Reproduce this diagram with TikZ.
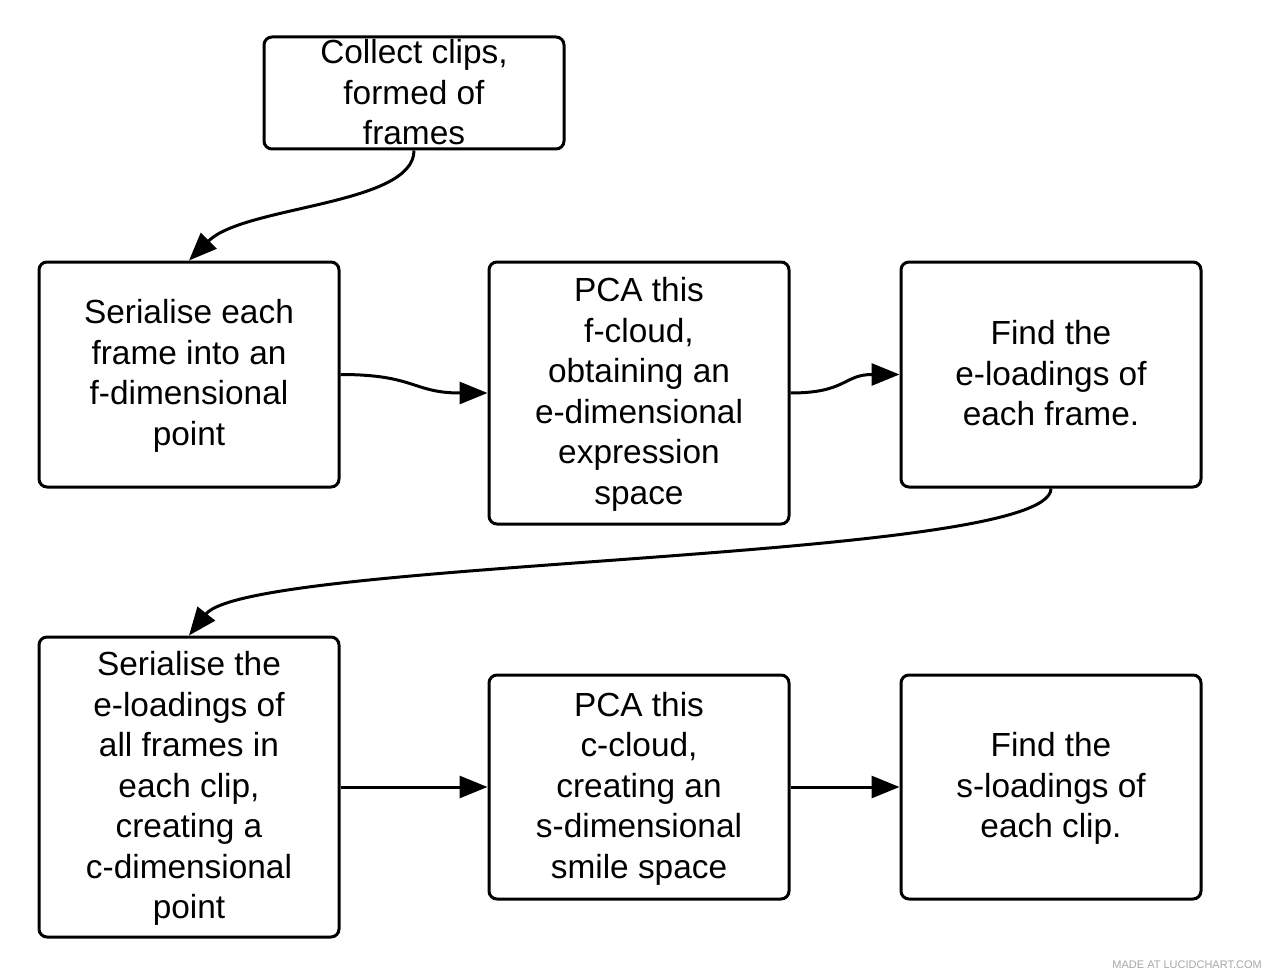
\documentclass[tikz,border=0pt]{standalone}
\usepackage{fontspec}
\setmainfont{Liberation Sans}
\usetikzlibrary{arrows.meta,calc}
\begin{document}
\begin{tikzpicture}[x=1pt,y=-1pt,
  box/.style={draw=black,line width=3pt,rounded corners=8pt,minimum width=300pt,inner sep=0pt},
  txt/.style={inner sep=0pt,align=center,font=\fontsize{33.4}{40.5}\selectfont},
  conn/.style={line width=3pt,-{Triangle[length=28pt,width=22pt]}},
  wmark/.style={inner sep=0pt,font=\fontsize{11}{12}\selectfont,text=black!35}]
\useasboundingbox (0,0) rectangle (1264,971);
\node[box,minimum height=112pt] (top) at (414,93) {};
\node[box,minimum height=225pt] (a) at (189,374.5) {};
\node[box,minimum height=262pt] (b) at (639,393) {};
\node[box,minimum height=225pt] (c) at (1051,374.5) {};
\node[box,minimum height=300pt] (d) at (189,787) {};
\node[box,minimum height=224pt] (e) at (639,787) {};
\node[box,minimum height=224pt] (f) at (1051,787) {};
\node[txt] (toptxt) at ($(top.center)+(0,3)$) {\strut Collect clips,\\formed of\\frames\strut};
\node[txt] (atxt) at ($(a.center)+(0,2)$) {\strut Serialise each\\frame into an\\f-dimensional\\point\strut};
\node[txt] (btxt) at ($(b.center)+(0,2)$) {\strut PCA this\\f-cloud,\\obtaining an\\e-dimensional\\expression\\space\strut};
\node[txt] (ctxt) at ($(c.center)+(0,2.5)$) {\strut Find the\\e-loadings of\\each frame.\strut};
\node[txt] (dtxt) at ($(d.center)+(0,2)$) {\strut Serialise the\\e-loadings of\\all frames in\\each clip,\\creating a\\c-dimensional\\point\strut};
\node[txt] (etxt) at ($(e.center)+(0,2)$) {\strut PCA this\\c-cloud,\\creating an\\s-dimensional\\smile space\strut};
\node[txt] (ftxt) at ($(f.center)+(0,2)$) {\strut Find the\\s-loadings of\\each clip.\strut};
\node[wmark,anchor=east] (wm) at (1262,965) {MADE AT LUCIDCHART.COM};
\draw[conn] (top.south) .. controls ($(top.south)+(0,55)$) and ($(a.north)+(55,-55)$) .. (a.north);
\draw[conn] (a.east) .. controls ($(a.east)+(75,0)$) and ($(b.west)+(-75,0)$) .. (b.west);
\draw[conn] (b.east) .. controls ($(b.east)+(56,0)$) and ($(c.west)+(-56,0)$) .. (c.west);
\draw[conn] (c.south) .. controls ($(c.south)+(0,73)$) and ($(d.north)+(61,-77)$) .. (d.north);
\draw[conn] (d.east) -- (e.west);
\draw[conn] (e.east) -- (f.west);
\end{tikzpicture}
\end{document}
